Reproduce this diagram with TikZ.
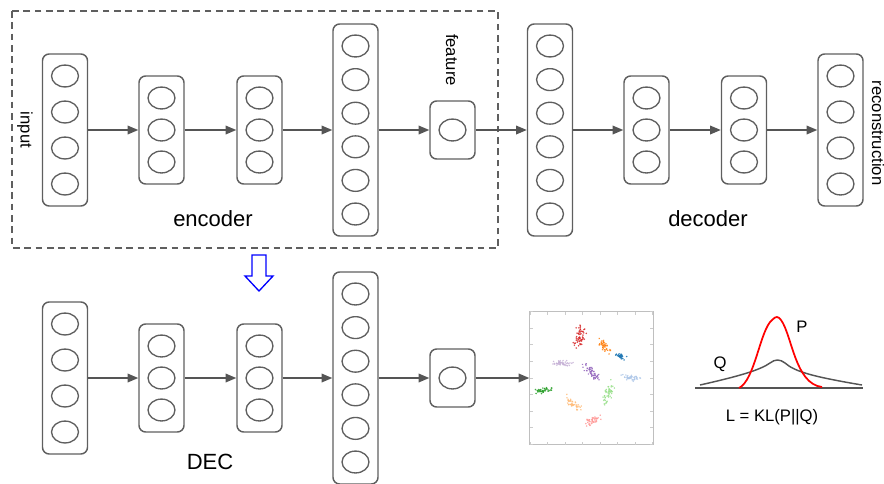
\documentclass[tikz,border=0pt]{standalone}
\usepackage{fontspec}
\setmainfont{Liberation Sans}
\usetikzlibrary{arrows.meta}
\definecolor{lgray}{HTML}{5F5F5F}
\definecolor{agray}{HTML}{555555}
\definecolor{tred}{HTML}{D62728}
\definecolor{torange}{HTML}{FF7F0E}
\definecolor{tblue}{HTML}{1F77B4}
\definecolor{tlav}{HTML}{C5B0D5}
\definecolor{tpurple}{HTML}{9467BD}
\definecolor{tlblue}{HTML}{AEC7E8}
\definecolor{tgreen}{HTML}{2CA02C}
\definecolor{tlgreen}{HTML}{98DF8A}
\definecolor{tlorange}{HTML}{FFBB78}
\definecolor{tpink}{HTML}{FF9896}
\tikzset{
  layerbox/.style={draw=lgray, line width=1.1pt, rounded corners=5pt, minimum width=33.75pt, inner sep=0pt},
  unit/.style={draw=lgray, line width=1pt},
  conn/.style={draw=agray, line width=1pt, -{Triangle[length=8pt,width=6.5pt]}},
  small/.style={font=\fontsize{12.5pt}{14pt}\selectfont, text=black},
  big/.style={font=\fontsize{16.5pt}{19pt}\selectfont, text=black},
}
\newcommand\mylayer[5]{%
  \node[layerbox, minimum height={(#4-#3)*0.75pt}] (#1) at (#2,{(#3+#4)/2}) {};
  \foreach \k in {1,...,#5}{%
    \draw[unit] (#2,{#3+22+(\k-1)*(#4-#3-44)/(#5-1)}) ellipse [x radius=10.1pt, y radius=8.2pt];
  }%
}
\newcommand\myfeat[3]{%
  \node[layerbox, minimum height=43.5pt] (#1) at (#2,#3) {};
  \draw[unit] (#2,#3) ellipse [x radius=10.1pt, y radius=8.2pt];
}
\newcommand\clust[7]{%
  \begin{scope}[shift={(#1,#2)}, rotate=#5]
    \foreach \i in {1,...,#7}{%
      \pgfmathsetmacro\ra{#3*(rand+rand+rand)/2.2}%
      \pgfmathsetmacro\rb{#4*(rand+rand+rand)/2.2}%
      \fill[#6, opacity=0.85] (\ra,\rb) circle (0.65pt);
    }
  \end{scope}
}
\begin{document}
\begin{tikzpicture}[x=0.75pt,y=-0.75pt]
\useasboundingbox (0,0) rectangle (884,483);
\pgfmathsetseed{7}
% encoder dashed frame
\draw[lgray, line width=1pt, dash pattern=on 5pt off 3.5pt] (12,11) rectangle (498,248);
% top row
\mylayer{in1}{65}{54}{206}{4}
\mylayer{e1}{161.5}{76}{184}{3}
\mylayer{e2}{259.5}{76}{184}{3}
\mylayer{e3}{355.5}{24}{236}{6}
\myfeat{feat}{452.5}{130}
\mylayer{d1}{550}{24}{236}{6}
\mylayer{d2}{646.5}{76}{184}{3}
\mylayer{d3}{744}{76}{184}{3}
\mylayer{rec}{840.5}{54}{206}{4}
\draw[conn] (in1.east) -- (e1.west);
\draw[conn] (e1.east) -- (e2.west);
\draw[conn] (e2.east) -- (e3.west);
\draw[conn] (e3.east) -- (feat.west);
\draw[conn] (feat.east) -- (d1.west);
\draw[conn] (d1.east) -- (d2.west);
\draw[conn] (d2.east) -- (d3.west);
\draw[conn] (d3.east) -- (rec.west);
\node[small, rotate=-90] (linput) at (25,130) {input};
\node[small, rotate=-90] (lfeat) at (452,60) {feature};
\node[small, rotate=-90] (lrec) at (878,133) {reconstruction};
\node[big] (lenc) at (213,219) {encoder};
\node[big] (ldec) at (708,219) {decoder};
% blue hollow arrow
\draw[blue, line width=1pt, line join=miter] (252,255) -- (266,255) -- (266,276) -- (273,276) -- (259,291) -- (245,276) -- (252,276) -- cycle;
% bottom row
\mylayer{b1}{65}{302}{454}{4}
\mylayer{b2}{161.5}{324}{432}{3}
\mylayer{b3}{259.5}{324}{432}{3}
\mylayer{b4}{355.5}{272}{484}{6}
\myfeat{bfeat}{452.5}{378}
\node[draw=black!25, line width=0.8pt, minimum width=92.5pt, minimum height=99.75pt, inner sep=0pt] (plot) at (591.5,378) {};
\draw[conn] (b1.east) -- (b2.west);
\draw[conn] (b2.east) -- (b3.west);
\draw[conn] (b3.east) -- (b4.west);
\draw[conn] (b4.east) -- (bfeat.west);
\draw[conn] (bfeat.east) -- (plot.west);
\node[big] (ldec2) at (210,462) {DEC};
% scatter frame ticks
\foreach \t in {0,1,...,7}{
  \draw[black!20, line width=0.4pt] ({530+\t*17.5},444.5) -- ({530+\t*17.5},441.5);
  \draw[black!20, line width=0.4pt] ({530+\t*17.5},311.5) -- ({530+\t*17.5},314.5);
}
\foreach \t in {0,1,...,8}{
  \draw[black!20, line width=0.4pt] (530,{311.5+\t*16.6}) -- (533,{311.5+\t*16.6});
  \draw[black!20, line width=0.4pt] (653,{311.5+\t*16.6}) -- (650,{311.5+\t*16.6});
}
% clusters
\clust{580}{335}{5.5}{12}{-10}{tred}{60}
\clust{604}{346}{4}{9}{35}{torange}{45}
\clust{621}{356}{5.5}{2.8}{-15}{tblue}{35}
\clust{563}{363}{11}{3}{0}{tlav}{45}
\clust{592}{373}{4}{12}{45}{tpurple}{60}
\clust{631}{378}{11}{3.5}{0}{tlblue}{45}
\clust{543}{390}{10}{3}{12}{tgreen}{45}
\clust{609}{393}{4.5}{11}{-20}{tlgreen}{50}
\clust{572}{403}{4}{11}{55}{tlorange}{45}
\clust{593}{421}{9}{3.5}{25}{tpink}{45}
% KL plot
\draw[agray, line width=1pt] (695,388) -- (863,388);
\draw[agray, line width=1.1pt] (700,385) .. controls (740,376) and (760,370) .. (770,363) .. controls (775,359) and (780,359) .. (785,363) .. controls (795,372) and (815,377) .. (862,385);
\draw[red, line width=1.3pt] (739,388) .. controls (755,380) and (760,330) .. (772,320) .. controls (776,316) and (778,316) .. (781,320) .. controls (792,335) and (795,384) .. (822,387);
\node[small] (lP) at (802,327) {P};
\node[small] (lQ) at (720,364) {Q};
\node[small] (lkl) at (772,417) {L = KL(P||Q)};
\end{tikzpicture}
\end{document}
